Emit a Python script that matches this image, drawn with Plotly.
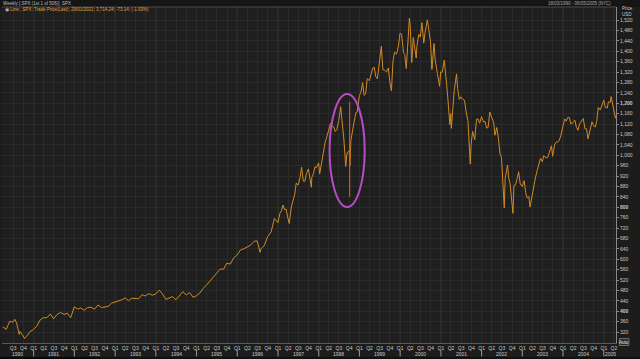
import plotly.graph_objects as go
import pandas as pd

# ---- data (S&P 500; close values) ----
dates = [
 "1990-03-30","1990-04-30","1990-05-31","1990-06-29","1990-07-16","1990-07-31","1990-08-24","1990-08-31","1990-09-28","1990-10-11","1990-10-31","1990-11-30","1990-12-31",
 "1991-01-31","1991-02-28","1991-03-28","1991-04-30","1991-05-31","1991-06-28","1991-07-31","1991-08-30","1991-09-30","1991-10-31","1991-11-29","1991-12-31",
 "1992-01-31","1992-02-28","1992-03-31","1992-04-30","1992-05-29","1992-06-30","1992-07-31","1992-08-31","1992-09-30","1992-10-30","1992-11-30","1992-12-31",
 "1993-01-29","1993-02-26","1993-03-31","1993-04-30","1993-05-28","1993-06-30","1993-07-30","1993-08-31","1993-09-30","1993-10-29","1993-11-30","1993-12-31",
 "1994-01-31","1994-02-28","1994-03-31","1994-04-29","1994-05-31","1994-06-30","1994-07-29","1994-08-31","1994-09-30","1994-10-31","1994-11-30","1994-12-30",
 "1995-01-31","1995-02-28","1995-03-31","1995-04-28","1995-05-31","1995-06-30","1995-07-31","1995-08-31","1995-09-29","1995-10-31","1995-11-30","1995-12-29",
 "1996-01-31","1996-02-29","1996-03-29","1996-04-30","1996-05-31","1996-06-28","1996-07-24","1996-07-31","1996-08-30","1996-09-30","1996-10-31","1996-11-29","1996-12-31",
 "1997-01-31","1997-02-28","1997-03-31","1997-04-11","1997-04-30","1997-05-30","1997-06-30","1997-07-31","1997-08-29","1997-09-30","1997-10-27","1997-10-31","1997-11-28","1997-12-31",
 "1998-01-09","1998-01-30","1998-02-27","1998-03-31","1998-04-30","1998-05-29","1998-06-30","1998-07-17","1998-07-31","1998-08-31","1998-09-30","1998-10-08","1998-10-30","1998-11-30","1998-12-31",
 "1999-01-29","1999-02-26","1999-03-31","1999-04-30","1999-05-28","1999-06-30","1999-07-16","1999-07-30","1999-08-31","1999-09-30","1999-10-15","1999-10-29","1999-11-30","1999-12-31",
 "2000-01-31","2000-02-25","2000-02-29","2000-03-24","2000-03-31","2000-04-14","2000-04-28","2000-05-24","2000-05-31","2000-06-30","2000-07-31","2000-08-31","2000-09-01","2000-09-29","2000-10-12","2000-10-31","2000-11-30","2000-12-20","2000-12-29",
 "2001-01-31","2001-02-28","2001-03-22","2001-03-30","2001-04-04","2001-04-30","2001-05-21","2001-05-31","2001-06-29","2001-07-31","2001-08-31","2001-09-21","2001-09-28","2001-10-31","2001-11-30","2001-12-31",
 "2002-01-31","2002-02-28","2002-03-28","2002-04-30","2002-05-31","2002-06-28","2002-07-23","2002-07-31","2002-08-22","2002-08-30","2002-09-30","2002-10-09","2002-10-31","2002-11-29","2002-12-31",
 "2003-01-31","2003-02-28","2003-03-11","2003-03-31","2003-04-30","2003-05-30","2003-06-30","2003-07-31","2003-08-29","2003-09-30","2003-10-31","2003-11-28","2003-12-31",
 "2004-01-30","2004-02-27","2004-03-31","2004-04-30","2004-05-28","2004-06-30","2004-07-30","2004-08-12","2004-08-31","2004-09-30","2004-10-29","2004-11-30","2004-12-31",
 "2005-01-31","2005-02-28","2005-03-07","2005-03-31","2005-04-15","2005-04-22",
]
prices = [
 339.94,330.80,361.23,358.02,368.95,356.15,311.51,322.56,306.05,295.46,304.00,322.22,330.22,
 343.93,367.07,375.22,375.35,389.83,371.16,387.81,395.43,387.86,392.46,375.22,417.09,
 408.79,412.70,403.69,414.95,415.35,408.14,424.21,414.03,417.80,418.68,431.35,435.71,
 438.78,443.38,451.67,440.19,450.19,450.53,448.13,463.56,458.93,467.83,461.79,466.45,
 481.61,467.14,445.77,450.91,456.50,444.27,458.26,475.49,462.69,472.35,453.69,459.27,
 470.42,487.39,500.71,514.71,533.40,544.75,562.06,561.88,584.41,581.50,605.37,615.93,
 636.02,640.43,645.50,654.17,669.12,670.63,626.65,639.95,651.99,687.31,705.27,757.02,740.74,
 786.16,790.82,757.12,737.65,801.34,848.28,885.14,954.29,899.47,947.28,876.99,914.62,955.40,970.43,
 927.69,980.28,1049.34,1101.75,1111.75,1090.82,1133.84,1186.75,1120.67,957.28,1017.01,959.44,1098.67,1163.63,1229.23,
 1279.64,1238.33,1286.37,1335.18,1301.84,1372.71,1418.78,1328.72,1320.41,1282.71,1247.41,1362.93,1388.91,1469.25,
 1394.46,1333.36,1366.42,1527.46,1498.58,1356.56,1452.43,1373.86,1420.60,1454.60,1430.83,1517.68,1520.77,1436.51,1329.78,1429.40,1314.95,1264.74,1320.28,
 1366.01,1239.94,1117.58,1160.33,1103.25,1249.46,1312.83,1255.82,1224.42,1211.23,1133.58,965.80,1040.94,1059.78,1139.45,1148.08,
 1130.20,1106.73,1147.39,1076.92,1067.14,989.82,797.70,911.62,962.70,916.07,815.28,776.76,885.76,936.31,879.82,
 855.70,841.15,800.73,848.18,916.92,963.59,974.50,990.31,1008.01,995.97,1050.71,1058.20,1111.92,
 1131.13,1144.94,1126.21,1107.30,1120.68,1140.84,1101.72,1063.23,1104.24,1114.58,1130.20,1173.82,1211.92,
 1181.27,1203.60,1225.31,1180.59,1142.62,1152.00,
]
# mid-month weekly readings (1997-2005)
mid_dates = [
 "1997-01-17","1997-02-14","1997-03-14","1997-05-16","1997-06-13","1997-07-18","1997-08-15","1997-09-12","1997-11-14","1997-12-12",
 "1998-02-13","1998-03-13","1998-04-17","1998-05-15","1998-06-12","1998-08-14","1998-09-11","1998-10-16","1998-11-13","1998-12-11",
 "1999-01-15","1999-02-12","1999-03-12","1999-04-16","1999-05-14","1999-06-11","1999-08-13","1999-09-17","1999-11-12","1999-12-17",
 "2000-01-14","2000-02-11","2000-06-16","2000-07-14","2000-08-11","2000-11-10",
 "2001-01-12","2001-02-16","2001-06-15","2001-07-13","2001-08-17","2001-10-12","2001-11-16","2001-12-14",
 "2002-01-18","2002-02-15","2002-03-15","2002-04-19","2002-05-17","2002-06-14","2002-09-13","2002-10-18","2002-11-15","2002-12-13",
 "2003-01-17","2003-02-14","2003-04-17","2003-05-16","2003-06-13","2003-07-11","2003-08-15","2003-09-19","2003-10-17","2003-11-14","2003-12-12",
 "2004-01-16","2004-02-13","2004-03-12","2004-04-16","2004-05-14","2004-06-18","2004-07-16","2004-09-17","2004-10-15","2004-11-12","2004-12-17",
 "2005-01-14","2005-02-11",
]
mid_prices = [
 776.17,808.48,793.17,829.75,893.27,915.30,900.81,929.05,928.35,953.39,
 1020.09,1068.61,1122.72,1108.73,1098.84,1062.75,1009.06,1056.42,1125.72,1166.46,
 1243.26,1230.13,1294.59,1319.00,1337.80,1293.64,1327.68,1335.42,1396.06,1421.03,
 1465.15,1387.12,1464.46,1509.98,1471.84,1365.98,
 1318.32,1301.53,1214.36,1215.68,1161.97,1091.65,1138.65,1123.09,
 1127.58,1104.18,1166.16,1125.17,1106.59,1007.27,889.81,884.39,909.83,889.48,
 901.78,834.89,893.58,944.30,988.61,998.14,990.67,1036.48,1039.32,1050.35,1074.14,
 1139.83,1145.81,1120.12,1134.61,1095.70,1135.02,1101.39,1128.55,1108.20,1184.17,1194.20,
 1184.52,1205.30,
]
spike_dates = ["1998-10-05", "1998-10-05"]
spike_values = [1206, 840]

y_ticks = list(range(320, 1521, 40))
y_bold = [400, 800, 1200]
years = list(range(1991, 2006))
quarters = pd.date_range("1990-04-01", "2005-04-01", freq="QS")
quarter_text = ["Q%d" % ((d.month - 1) // 3 + 1) for d in quarters]
year_labels = [("1990", "1990-08-10")] + [(str(y), f"{y}-07-01") for y in range(1991, 2005)] + [("2005", "2005-02-26")]

# ellipse highlight
ell_x = ["1998-04-08", "1999-02-17"]
ell_y = [801, 1235]

x_range = ["1990-03-23", "2005-04-20"]
y_range = [278, 1570]

series = pd.DataFrame({"d": pd.to_datetime(dates + mid_dates), "v": prices + mid_prices}).sort_values("d")

FONT = "Liberation Sans"
LINE = "#d08a22"
PH = 336.0  # plot height in px
def py(px):  # pixel row -> paper y
    return 1 - (px - 7) / PH

fig = go.Figure()
fig.add_trace(go.Scatter(x=series["d"], y=series["v"], mode="lines",
                         line=dict(color=LINE, width=1), hoverinfo="skip"))
fig.add_trace(go.Scatter(x=spike_dates, y=spike_values, mode="lines",
                         line=dict(color="#e0502a", width=1.2), hoverinfo="skip"))

ytext = [(f"<b>{v:,}</b>" if v in y_bold else f"{v:,}") for v in y_ticks]

shapes = []
for y in years:
    shapes.append(dict(type="line", xref="x", yref="paper", x0=f"{y}-01-01", x1=f"{y}-01-01",
                       y0=0, y1=1, line=dict(color="#3a3a3a", width=1), layer="between"))
    shapes.append(dict(type="line", xref="x", yref="paper", x0=f"{y}-01-01", x1=f"{y}-01-01",
                       y0=py(350), y1=py(356.5), line=dict(color="#9a9a9a", width=1)))
# top bar
shapes.append(dict(type="rect", xref="paper", yref="paper", x0=-0.01, x1=1.05, y0=1.0, y1=py(-2),
                   fillcolor="#151515", line=dict(width=0)))
shapes.append(dict(type="line", xref="paper", yref="paper", x0=0, x1=1, y0=1.0, y1=1.0,
                   line=dict(color="#4a4a4a", width=1)))
# ellipse
shapes.append(dict(type="circle", xref="x", yref="y", x0=ell_x[0], x1=ell_x[1], y0=ell_y[0], y1=ell_y[1],
                   line=dict(color="#b84cc4", width=2)))
# Auto box
shapes.append(dict(type="rect", xref="paper", yref="paper", x0=1.0055, x1=1.021, y0=py(345.5), y1=py(338.5),
                   fillcolor="#2a2a2a", line=dict(color="#9a9a9a", width=0.6)))
# bottom strip / scrollbar
shapes.append(dict(type="rect", xref="paper", yref="paper", x0=-0.01, x1=1.05, y0=py(357), y1=py(362),
                   fillcolor="#111111", line=dict(width=0)))
shapes.append(dict(type="rect", xref="paper", yref="paper", x0=-0.01, x1=0.16, y0=py(357.5), y1=py(362),
                   fillcolor="#050505", line=dict(width=0)))

ann = []
for txt, xd in year_labels:
    ann.append(dict(text=txt, x=xd, xref="x", y=py(353.5), yref="paper", showarrow=False,
                    yanchor="middle", font=dict(size=5, color="#c8c8c8", family=FONT)))
ann.append(dict(text="Weekly [.SPX (1st 1 of 506)] .SPX", x=-0.002, y=py(3.5), xref="paper", yref="paper",
                xanchor="left", yanchor="middle", showarrow=False,
                font=dict(size=4.5, color="#bdbdbd", family=FONT)))
ann.append(dict(text="18/03/1990 - 06/05/2005 (NYC)", x=0.995, y=py(3.8), xref="paper", yref="paper",
                xanchor="right", yanchor="middle", showarrow=False,
                font=dict(size=4.5, color="#a8a8a8", family=FONT)))
ann.append(dict(text="<span style='color:#bbbbbb'>◉</span> Line; .SPX; Trade Price(Last); 29/01/2021; 3,714.24; -73.14; (-1.93%)",
                x=0.001, y=py(10), xref="paper", yref="paper", xanchor="left", yanchor="middle",
                showarrow=False, font=dict(size=4.5, color="#e0a030", family=FONT)))
ann.append(dict(text="Price", x=1.006, y=py(9), xref="paper", yref="paper", xanchor="left",
                yanchor="middle", showarrow=False, font=dict(size=4.5, color="#c8c8c8", family=FONT)))
ann.append(dict(text="USD", x=1.006, y=py(14.5), xref="paper", yref="paper", xanchor="left",
                yanchor="middle", showarrow=False, font=dict(size=4.5, color="#c8c8c8", family=FONT)))
ann.append(dict(text="Auto", x=1.0132, y=py(342), xref="paper", yref="paper", xanchor="center",
                yanchor="middle", showarrow=False, font=dict(size=4.5, color="#e8e8e8", family=FONT)))

fig.update_layout(
    width=640, height=359,
    margin=dict(l=2, r=24, t=7, b=16),
    paper_bgcolor="#1c1c1c", plot_bgcolor="#1f1f1f",
    showlegend=False,
    shapes=shapes, annotations=ann,
    xaxis=dict(type="date", range=x_range, tickmode="array", tickvals=list(quarters), ticktext=quarter_text,
               showgrid=True, gridcolor="#2a2a2a", gridwidth=1, zeroline=False,
               showline=True, linecolor="#5a5a5a", linewidth=1,
               ticks="", tickfont=dict(size=5, color="#c8c8c8", family=FONT), ticklabelstandoff=0),
    yaxis=dict(range=y_range, side="right", tickmode="array", tickvals=y_ticks, ticktext=ytext,
               showgrid=True, gridcolor="#2a2a2a", gridwidth=1, zeroline=False,
               showline=True, linecolor="#8a8a8a", linewidth=1,
               ticks="outside", ticklen=2, tickcolor="#8a8a8a",
               tickfont=dict(size=5, color="#c8c8c8", family=FONT)),
)
fig.write_html("out.html", config={"displayModeBar": False},
               post_script="document.body.style.margin='0';document.body.style.background='#1c1c1c';")
